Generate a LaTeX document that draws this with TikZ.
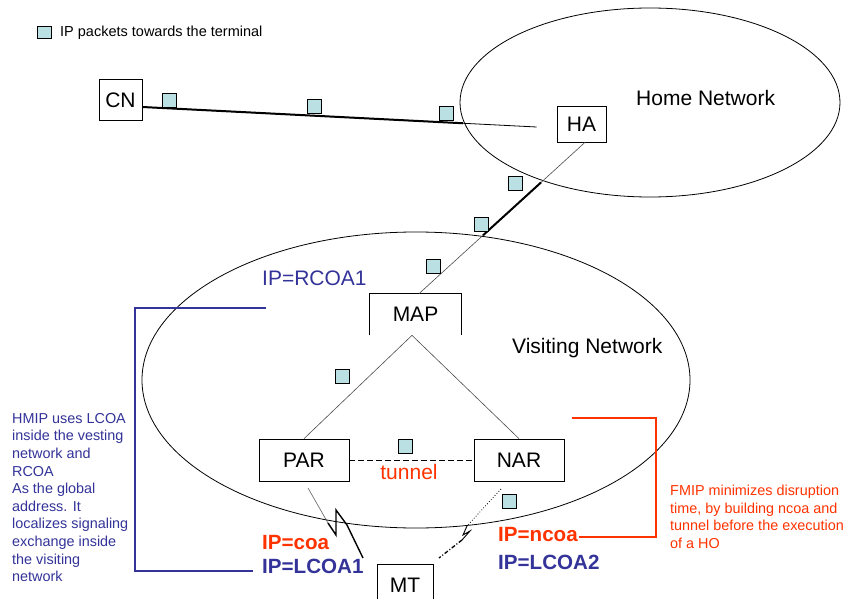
\documentclass[tikz,border=0pt]{standalone}
\usepackage{fontspec}
\setmainfont{Liberation Sans}
\usetikzlibrary{calc,shapes.geometric}
\definecolor{pktc}{RGB}{187,224,227}
\definecolor{hblue}{RGB}{51,51,153}
\definecolor{fred}{RGB}{255,51,0}
\begin{document}
\begin{tikzpicture}[x=1pt,y=-1pt,
  box/.style={draw, line width=0.7pt, inner sep=0pt, font=\fontsize{21}{24}\selectfont},
  pkt/.style={draw, fill=pktc, minimum size=14pt, inner sep=0pt, line width=0.6pt},
  net/.style={draw, ellipse, line width=0.8pt, inner sep=0pt},
  big/.style={inner sep=0pt, anchor=base west, font=\fontsize{21}{24}\selectfont},
  bigb/.style={inner sep=0pt, anchor=base west, font=\fontsize{20.6}{24}\selectfont\bfseries},
  note/.style={inner sep=0pt, anchor=north west, align=left, font=\fontsize{14.4}{17.6}\selectfont},
  thin/.style={line width=0.6pt, gray!60!black},
  fat/.style={line width=2pt}]
\clip (0,0) rectangle (846,599);
\fill[white] (0,0) rectangle (846,599);

% networks
\node[net, minimum width=380pt, minimum height=189pt] (home) at (650,102.5) {};
\node[net, minimum width=548pt, minimum height=296pt] (visit) at (416,380) {};
\node[big] (homet) at (636,105.5) {Home Network};
\node[big] (visitt) at (512,353) {Visiting Network};

% legend
\node[pkt, minimum width=14pt, minimum height=12pt] (leg) at (44.5,32) {};
\node[inner sep=0pt, anchor=base west, font=\fontsize{14.5}{17}\selectfont] (legt) at (60,37) {IP packets towards the terminal};

% boxes
\node[box, minimum width=43pt, minimum height=41pt] (CN) at (120.5,100) {CN};
\node[box, minimum width=49pt, minimum height=36pt] (HA) at (581.5,124) {HA};
\node[box, draw=none, minimum width=91pt, minimum height=41pt] (MAP) at (415.5,314.5) {MAP};
\draw[line width=0.7pt] (MAP.south west) -- (MAP.north west) -- (MAP.north east) -- (MAP.south east);
\node[box, minimum width=90pt, minimum height=42pt] (PAR) at (304,460) {PAR};
\node[box, minimum width=90pt, minimum height=42pt] (NAR) at (519,460) {NAR};
\node[box, minimum width=56pt, minimum height=42pt] (MT) at (405,585) {MT};

% CN - HA
\coordinate (cnA) at ([yshift=-7pt]CN.east);
\coordinate (haA) at ([xshift=-20pt,yshift=-3pt]HA.west);
\draw[line width=0.8pt] (cnA) -- (haA);
\draw[fat] (cnA) -- ($(cnA)!0.8127!(haA)$);

% HA - MAP
\coordinate (haB) at ([xshift=3.5pt]HA.south);
\coordinate (mapT) at ([xshift=3.5pt]MAP.north);
\draw[thin] (haB) -- (mapT);
\draw[fat] ($(haB)!0.265!(mapT)$) -- ($(haB)!0.614!(mapT)$);

% MAP - PAR / NAR
\coordinate (apex) at ([xshift=-3.5pt]MAP.south);
\draw[thin] (apex) -- (PAR.north);
\draw[thin] (apex) -- (NAR.north);

% tunnel
\draw[line width=0.8pt, dash pattern=on 6pt off 3pt] (PAR.east) -- (NAR.west);
\node[inner sep=0pt, anchor=base, text=fred, font=\fontsize{21}{24}\selectfont] (tun) at (409,479.5) {tunnel};

% PAR - MT (radio)
\coordinate (parB) at (308,488);
\coordinate (zA) at (328,523);
\coordinate (mtA) at (363,558);
\draw[thin, line width=0.5pt] (parB) -- (zA);
\draw[line width=1.4pt, line join=miter] (zA) -- (336,535) -- (336,510) -- (347,525) -- (mtA);

% NAR - MT (future radio)
\coordinate (narB) at (501,489);
\coordinate (zB) at (467,526);
\coordinate (zC) at (462,540);
\coordinate (mtB) at (439,558);
\draw[line width=0.8pt, dotted] (narB) -- (zB);
\draw[line width=0.9pt] (zB) -- (463,535) -- (470,531) -- (zC);
\draw[line width=1.3pt, dash pattern=on 4pt off 2pt on 1pt off 2pt] (zC) -- (mtB);

% packets
\node[pkt] (p1) at (169.5,100) {};
\node[pkt] (p2) at (314.5,106.5) {};
\node[pkt] (p3) at (446,113.5) {};
\node[pkt] (p4) at (515.5,183.5) {};
\node[pkt] (p5) at (481,224.5) {};
\node[pkt] (p6) at (433,266) {};
\node[pkt] (p7) at (342.5,376) {};
\node[pkt] (p8) at (405,446) {};
\node[pkt] (p9) at (509.5,501) {};

% labels
\node[big, text=hblue] (rcoa) at (262,285.5) {IP=RCOA1};
\node[bigb, text=fred] (coa) at (262,549) {IP=coa};
\node[bigb, text=hblue] (lcoa1) at (262,573.5) {IP=LCOA1};
\node[bigb, text=fred] (ncoa) at (498,541.5) {IP=ncoa};
\node[bigb, text=hblue] (lcoa2) at (498,569.5) {IP=LCOA2};

% brackets
\coordinate (bA) at (266,308);
\coordinate (bB) at ([xshift=-9pt]lcoa1.west);
\draw[hblue, line width=2pt] (bA) -- (135,308) -- (135,571) -- (bB |- 0,571);
\coordinate (rA) at (572,418);
\draw[fred, line width=1.8pt] (rA) -- (656,418) -- (656,537) -- ([xshift=1pt]ncoa.east |- 0,537);

% notes
\node[note, text=hblue] (hmip) at (12,413) {HMIP uses LCOA\\inside the vesting\\network and\\RCOA\\As the global\\address. It\\localizes signaling\\exchange inside\\the visiting\\network};
\node[note, text=fred] (fmip) at (670,485) {FMIP minimizes disruption\\time, by building ncoa and\\tunnel before the execution\\of a HO};
\end{tikzpicture}
\end{document}
